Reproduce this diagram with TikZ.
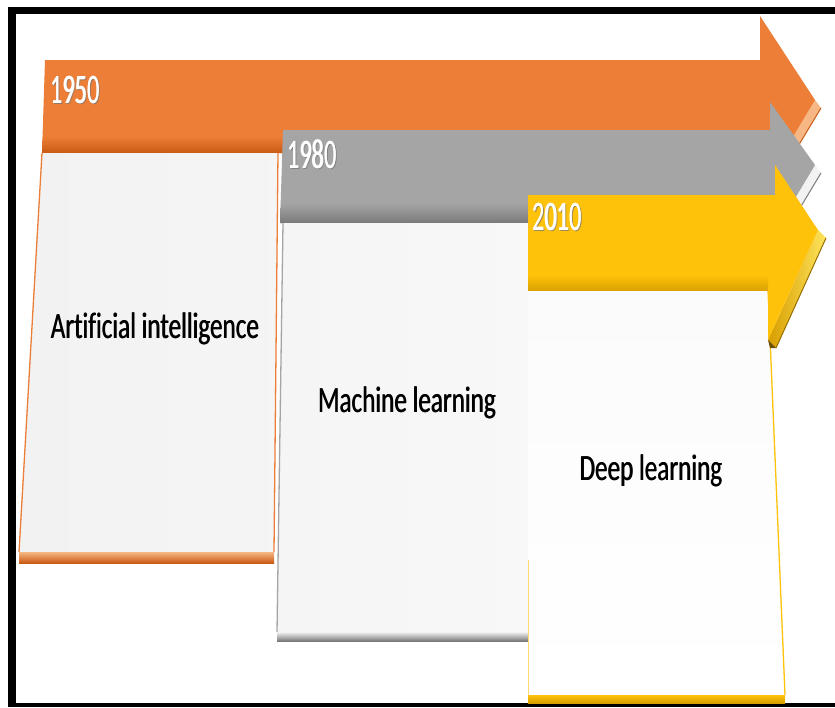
\documentclass[tikz,border=0pt]{standalone}
\usepackage{fontspec}
\usepackage{graphicx}
\setmainfont{Carlito}[Ligatures=NoCommon]
\definecolor{orA}{HTML}{EC7E38}
\definecolor{orD}{HTML}{C95A14}
\definecolor{orL}{HTML}{F7B784}
\definecolor{grA}{HTML}{A5A5A5}
\definecolor{grD}{HTML}{7A7A7A}
\definecolor{grL}{HTML}{F2F2F2}
\definecolor{yeA}{HTML}{FFC20A}
\definecolor{yeD}{HTML}{D79E00}
\definecolor{yeL}{HTML}{FFE45C}
\definecolor{panelA}{HTML}{F2F2F2}
\definecolor{panelB}{HTML}{F5F5F5}
\definecolor{panelC}{HTML}{FBFBFB}
\tikzset{
  yeartext/.style={text=white, inner sep=0pt, anchor=base west,
    font=\fontsize{42}{42}\selectfont},
  yearshadow/.style={text=black!55, opacity=0.45, inner sep=0pt, anchor=base west,
    font=\fontsize{42}{42}\selectfont},
  labeltext/.style={text=black, inner sep=0pt, anchor=base,
    font=\fontsize{37}{37}\selectfont},
}
\newcommand{\fakebold}[1]{\rlap{#1}\kern0.9pt#1}
\newcommand{\yr}[1]{\scalebox{0.58}[1]{\fakebold{#1}}}
\newcommand{\lb}[1]{\scalebox{0.68}[1]{\fakebold{#1}}}
\begin{document}
\begin{tikzpicture}[x=1pt,y=-1pt]
\useasboundingbox (0,0) rectangle (835,707);
% frame
\fill[black] (8,7) rectangle (835,707);
\fill[white] (16,14) rectangle (835,703);

% ---------- orange arrow ----------
\fill[orL] (815,100) -- (821,108) -- (776,183) -- (770,175) -- cycle;
\draw[orD, line width=1pt] (821,108) -- (776,183);
\fill[orA] (45,60) -- (760,60) -- (760,16) -- (815,100) -- (770,175) -- (770,153) -- (42,153) -- cycle;
\shade[top color=orA, bottom color=orD] (43,136) -- (770,136) -- (770,153) -- (42,153) -- cycle;

% ---------- panel 1 ----------
\shade[left color=panelA, right color=panelA!80!white] (42,153) -- (278,153) -- (274,552) -- (19,552) -- cycle;
\draw[orA, line width=1.3pt] (42,153) -- (19,552);
\draw[orA, line width=1.3pt] (278,153) -- (274,552);
\shade[top color=orL, bottom color=orD] (19,552) rectangle (274,563);

% ---------- gray arrow ----------
\fill[grL] (815,165) -- (821,173) -- (776,248) -- (770,240) -- cycle;
\draw[grD, line width=1pt] (821,173) -- (776,248);
\fill[grA] (283,130) -- (770,130) -- (770,102) -- (815,165) -- (770,240) -- (770,223) -- (280,223) -- cycle;
\shade[top color=grA, bottom color=grD] (281,203) -- (770,203) -- (770,223) -- (280,223) -- cycle;

% ---------- panel 2 ----------
\shade[left color=panelB, right color=panelB!70!white] (283,223) -- (540,223) -- (540,632) -- (277,632) -- cycle;
\draw[grA, line width=1.3pt] (283,223) -- (277,632);
\shade[top color=grL, bottom color=grD] (277,632) rectangle (528,641);

% ---------- panel 3 ----------
\shade[top color=panelC, bottom color=white] (528,290) -- (768,290) -- (785,695) -- (528,695) -- cycle;
\draw[yeA, line width=1.3pt] (768,290) -- (785,695);
\draw[yeA!60, line width=1pt] (528,560) -- (528,695);
\shade[top color=yeA, bottom color=yeD] (528,695) rectangle (785,703);

% ---------- yellow arrow ----------
\shade[left color=yeD, right color=yeL] (818,230) -- (826,238) -- (776,348) -- (768,340) -- cycle;
\draw[yeD!70!black, line width=1pt] (826,238) -- (776,348);
\fill[yeD!50!black] (768,340) -- (776,348) -- (770,348) -- cycle;
\fill[yeA] (528,195) -- (775,195) -- (775,165) -- (818,230) -- (768,340) -- (768,290) -- (528,290) -- cycle;
\shade[top color=yeA, bottom color=yeD!90!yeA] (528,275) -- (768,275) -- (768,290) -- (528,290) -- cycle;

% ---------- texts ----------
\node[yearshadow] (s1950) at (51,104) {\yr{1950}};
\node[yeartext] (t1950) at (50,103) {\yr{1950}};
\node[yearshadow] (s1980) at (288,169) {\yr{1980}};
\node[yeartext] (t1980) at (287,168) {\yr{1980}};
\node[yearshadow] (s2010) at (533,231) {\yr{2010}};
\node[yeartext] (t2010) at (532,230) {\yr{2010}};

\node[labeltext] (ai) at (155,338) {\lb{Artificial intelligence}};
\node[labeltext] (ml) at (407,412) {\lb{Machine learning}};
\node[labeltext] (dl) at (651,480) {\lb{Deep learning}};
\end{tikzpicture}
\end{document}
